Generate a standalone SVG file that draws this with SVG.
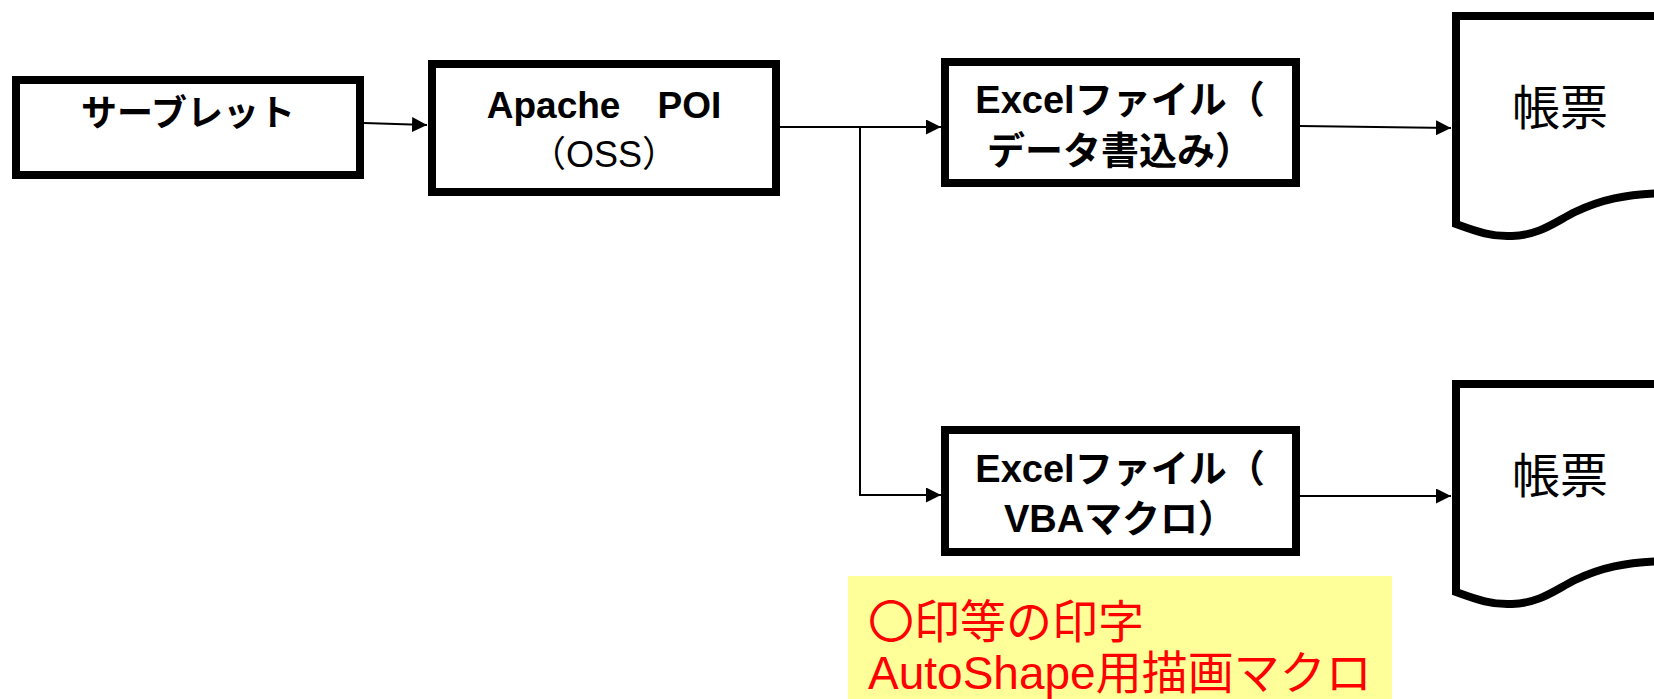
<svg xmlns="http://www.w3.org/2000/svg" width="1654" height="699" viewBox="0 0 1654 699">
<style>
.box{fill:#fff;stroke:#000;stroke-width:8}
.doc{fill:#fff;stroke:#000;stroke-width:8;stroke-linejoin:miter}
.t{font-family:"Liberation Sans","Noto Sans CJK JP",sans-serif;fill:#000;text-anchor:middle}
.b{font-weight:bold}
.con{fill:none;stroke:#000;stroke-width:2}
.note{font-family:"Liberation Sans","Noto Sans CJK JP",sans-serif;fill:#FF0000;font-size:46px}
</style>
<defs>
<marker id="arr" markerWidth="15" markerHeight="15" refX="15" refY="7.5" orient="auto" markerUnits="userSpaceOnUse">
<path d="M0,0 L15,7.5 L0,15 Z" fill="#000"/>
</marker>
<path id="docshape" d="M1456,16 L1700,16 L1700,193 L1665,193 C1625,194 1600,200 1575,212 C1555,222 1540,235 1512,236 C1492,237 1478,232 1456,224 Z"/>
</defs>
<rect width="1654" height="699" fill="#fff"/>

<g id="connectors">
<line class="con" x1="364" y1="123" x2="427" y2="125" marker-end="url(#arr)"/>
<line class="con" x1="780" y1="127" x2="941" y2="127" marker-end="url(#arr)"/>
<polyline class="con" points="860,127 860,495 941,495" marker-end="url(#arr)"/>
<line class="con" x1="1300" y1="126" x2="1451" y2="128" marker-end="url(#arr)"/>
<line class="con" x1="1300" y1="496" x2="1451" y2="496" marker-end="url(#arr)"/>
</g>

<g id="servlet">
<rect class="box" x="16" y="80" width="344" height="95"/>
<text class="t b" x="188" y="126" font-size="36">サーブレット</text>
</g>

<g id="poi">
<rect class="box" x="432" y="64" width="344" height="128"/>
<text class="t b" x="604" y="118" font-size="37">Apache　POI</text>
<text class="t" x="604" y="167" font-size="36">（OSS）</text>
</g>

<g id="excel1">
<rect class="box" x="945" y="62" width="351" height="121"/>
<text class="t b" x="1120" y="113" font-size="38">Excelファイル（</text>
<text class="t b" x="1120" y="164" font-size="38">データ書込み）</text>
</g>

<g id="excel2">
<rect class="box" x="945" y="430" width="351" height="122"/>
<text class="t b" x="1120" y="482" font-size="38">Excelファイル（</text>
<text class="t b" x="1120" y="532" font-size="38">VBAマクロ）</text>
</g>

<g id="doc1">
<use href="#docshape" class="doc"/>
<text class="t" x="1560" y="125" font-size="48">帳票</text>
</g>

<g id="doc2">
<use href="#docshape" class="doc" transform="translate(0,368)"/>
<text class="t" x="1560" y="493" font-size="48">帳票</text>
</g>

<g id="note">
<rect x="848" y="576" width="544" height="123" fill="#FFFF99"/>
<text class="note" x="868" y="638">〇印等の印字</text>
<text class="note" x="868" y="689">AutoShape用描画マクロ</text>
</g>
</svg>
